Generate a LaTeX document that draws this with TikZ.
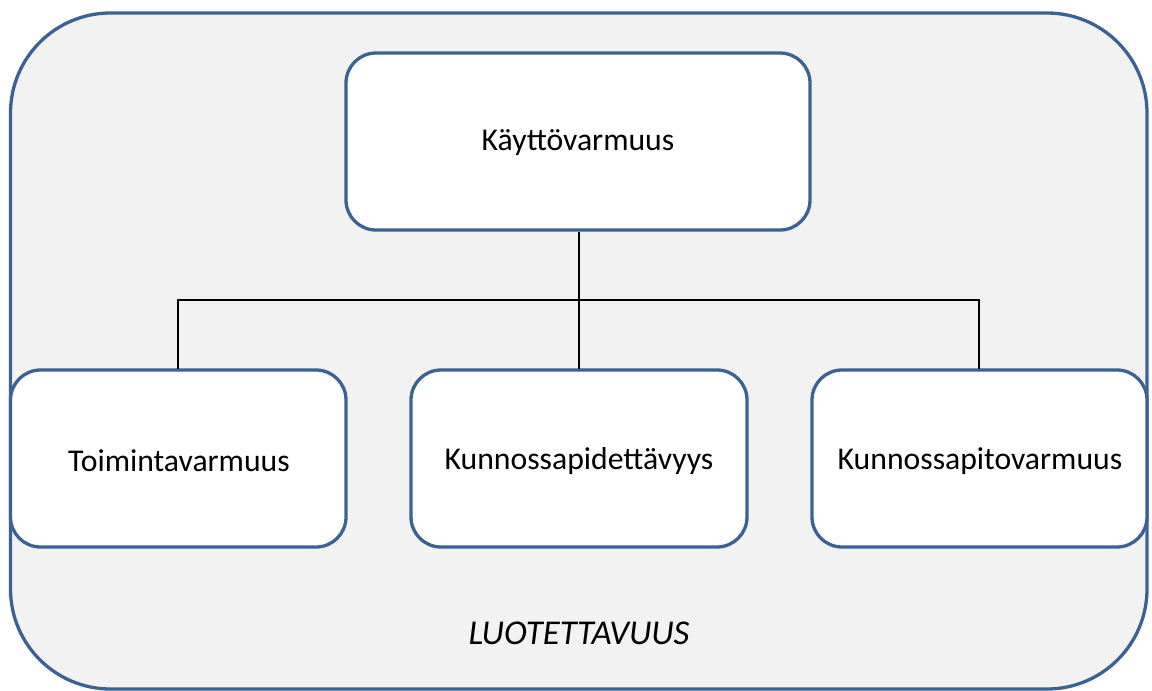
\documentclass[tikz,border=0pt]{standalone}
\usepackage{fontspec}
\setmainfont{Carlito}
\definecolor{edgeblue}{RGB}{58,98,148}
\definecolor{panelgray}{RGB}{242,242,242}
\begin{document}
\begin{tikzpicture}[x=1pt,y=-1pt,
  panel/.style={draw=edgeblue,line width=3.3pt,fill=panelgray,rounded corners=100pt},
  box/.style={draw=edgeblue,line width=3.3pt,fill=white,rounded corners=30pt},
  label/.style={font=\fontsize{31.7}{36}\selectfont,text=black},
  caption/.style={font=\fontsize{34.8}{40}\selectfont\itshape,text=black},
  link/.style={draw=black,line width=1.5pt}]
\useasboundingbox (0,0) rectangle (1152,691);
% outer panel
\draw[panel] (10.5,13) rectangle (1147,689);
% boxes
\draw[box] (346,53) rectangle (810,230);
\draw[box] (10.5,370) rectangle (346,547);
\draw[box] (411,370) rectangle (747,547);
\draw[box] (812,370) rectangle (1147,547);
\node[label] (top) at (578,143) {Käyttövarmuus};
\node[label] (left) at (179,461) {Toimintavarmuus};
\node[label] (mid) at (579,461) {Kunnossapidettävyys};
\node[label] (right) at (980,461) {Kunnossapitovarmuus};
\node[caption] (title) at (579,633) {LUOTETTAVUUS};
\coordinate (tb) at (579,231.5);
\coordinate (hub) at (579,300);
\coordinate (hl) at (178,300);
\coordinate (hr) at (979,300);
\coordinate (lb) at (178,368.5);
\coordinate (mb) at (579,368.5);
\coordinate (rb) at (979,368.5);
\draw[link] (tb) -- (hub);
\draw[link] (hub) -- (mb);
\draw[link,line cap=rect] (lb) -- (hl) -- (hr) -- (rb);
\end{tikzpicture}
\end{document}
